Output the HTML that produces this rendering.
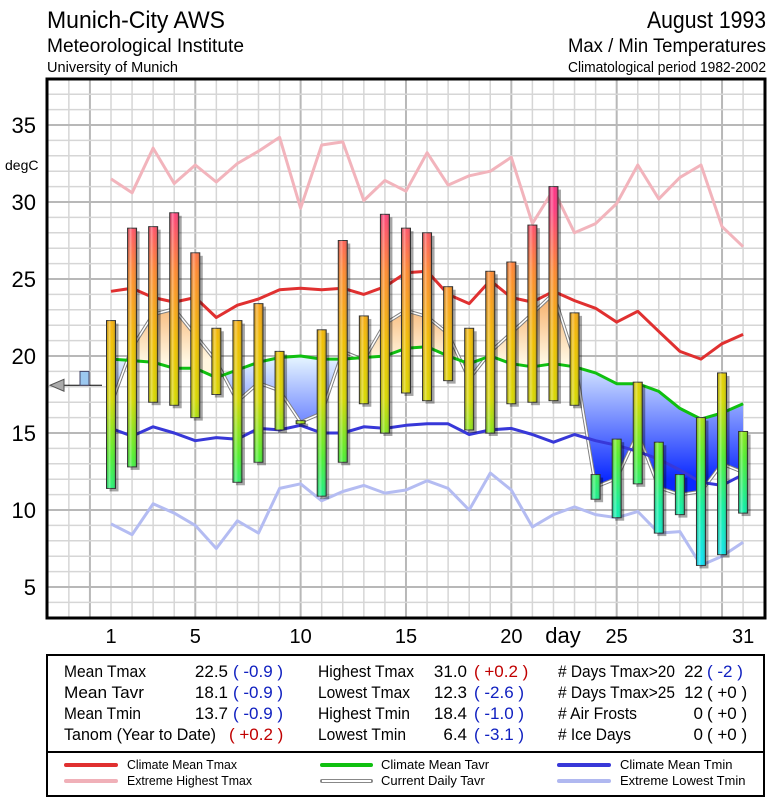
<!DOCTYPE html>
<html><head><meta charset="utf-8"><style>
html,body{margin:0;padding:0;background:#fff;}
svg{display:block;font-family:"Liberation Sans",sans-serif;}
</style></head><body>
<svg id="chart" width="775" height="800" viewBox="0 0 775 800" xmlns="http://www.w3.org/2000/svg">
<defs>
<linearGradient id="barGrad" gradientUnits="userSpaceOnUse" x1="0" y1="118" x2="0" y2="570">
<stop offset="0" stop-color="#ff2090"/>
<stop offset="0.2" stop-color="#ff3a80"/>
<stop offset="0.34" stop-color="#ff8a30"/>
<stop offset="0.5" stop-color="#f0c000"/>
<stop offset="0.62" stop-color="#d8d800"/>
<stop offset="0.75" stop-color="#50f030"/>
<stop offset="0.86" stop-color="#10f0a0"/>
<stop offset="1" stop-color="#10e0ff"/>
</linearGradient>
<linearGradient id="barShade" x1="0" y1="0" x2="1" y2="0">
<stop offset="0" stop-color="#000" stop-opacity="0.15"/>
<stop offset="0.3" stop-color="#fff" stop-opacity="0.35"/>
<stop offset="0.6" stop-color="#fff" stop-opacity="0"/>
<stop offset="1" stop-color="#000" stop-opacity="0.3"/>
</linearGradient>
<linearGradient id="warmGrad" gradientUnits="userSpaceOnUse" x1="0" y1="250" x2="0" y2="360">
<stop offset="0" stop-color="#f07a10"/>
<stop offset="1" stop-color="#fff6e0"/>
</linearGradient>
<linearGradient id="coldGrad" gradientUnits="userSpaceOnUse" x1="0" y1="360" x2="0" y2="480">
<stop offset="0" stop-color="#e0f0ff"/>
<stop offset="1" stop-color="#0a28ff"/>
</linearGradient>
<clipPath id="plotClip"><rect x="47" y="79" width="718" height="539"/></clipPath>
<clipPath id="aboveClip"><polygon id="aboveClipPoly" points=""/></clipPath>
<clipPath id="belowClip"><polygon id="belowClipPoly" points=""/></clipPath>
</defs>

<g>
<text x="47" y="28" font-size="24" textLength="178" lengthAdjust="spacingAndGlyphs">Munich-City AWS</text>
<text x="47" y="52" font-size="19" textLength="197" lengthAdjust="spacingAndGlyphs">Meteorological Institute</text>
<text x="47" y="72" font-size="15" textLength="131" lengthAdjust="spacingAndGlyphs">University of Munich</text>
<text x="766" y="28" font-size="24" text-anchor="end" textLength="119" lengthAdjust="spacingAndGlyphs">August 1993</text>
<text x="766" y="52" font-size="19" text-anchor="end" textLength="198" lengthAdjust="spacingAndGlyphs">Max / Min Temperatures</text>
<text x="766" y="72" font-size="15" text-anchor="end" textLength="198" lengthAdjust="spacingAndGlyphs">Climatological period 1982-2002</text>
</g>

<g id="grid"></g>
<g id="fills" clip-path="url(#plotClip)"></g>
<g id="lines" clip-path="url(#plotClip)"></g>
<g id="bars"></g>
<rect x="47" y="79" width="718" height="539" fill="none" stroke="#000" stroke-width="3"/>
<g id="yaxis"></g>
<text x="5" y="170" font-size="14">degC</text>
<g id="xaxis"></g>
<g id="marker"></g>

<g font-size="17">
<rect x="47" y="655" width="717" height="97" fill="#fff" stroke="#000" stroke-width="2"/>
<g>
<text x="64" y="677" textLength="82" lengthAdjust="spacingAndGlyphs">Mean Tmax</text><text x="228" y="677" text-anchor="end">22.5</text><text x="233" y="677" fill="#1020c0">( -0.9 )</text>
<text x="64" y="698" textLength="80" lengthAdjust="spacingAndGlyphs">Mean Tavr</text><text x="228" y="698" text-anchor="end">18.1</text><text x="233" y="698" fill="#1020c0">( -0.9 )</text>
<text x="64" y="719" textLength="77" lengthAdjust="spacingAndGlyphs">Mean Tmin</text><text x="228" y="719" text-anchor="end">13.7</text><text x="233" y="719" fill="#1020c0">( -0.9 )</text>
<text x="64" y="740" textLength="152" lengthAdjust="spacingAndGlyphs">Tanom (Year to Date)</text><text x="229" y="740" fill="#c00000">( +0.2 )</text>
</g>
<g>
<text x="318" y="677" textLength="96" lengthAdjust="spacingAndGlyphs">Highest Tmax</text><text x="467" y="677" text-anchor="end">31.0</text><text x="474" y="677" fill="#c00000">( +0.2 )</text>
<text x="318" y="698" textLength="92" lengthAdjust="spacingAndGlyphs">Lowest Tmax</text><text x="467" y="698" text-anchor="end">12.3</text><text x="474" y="698" fill="#1020c0">( -2.6 )</text>
<text x="318" y="719" textLength="92" lengthAdjust="spacingAndGlyphs">Highest Tmin</text><text x="467" y="719" text-anchor="end">18.4</text><text x="474" y="719" fill="#1020c0">( -1.0 )</text>
<text x="318" y="740" textLength="88" lengthAdjust="spacingAndGlyphs">Lowest Tmin</text><text x="467" y="740" text-anchor="end">6.4</text><text x="474" y="740" fill="#1020c0">( -3.1 )</text>
</g>
<g>
<text x="558" y="677" textLength="117" lengthAdjust="spacingAndGlyphs"># Days Tmax&gt;20</text><text x="703" y="677" text-anchor="end">22</text><text x="707" y="677" fill="#1020c0">( -2 )</text>
<text x="558" y="698" textLength="117" lengthAdjust="spacingAndGlyphs"># Days Tmax&gt;25</text><text x="703" y="698" text-anchor="end">12</text><text x="707" y="698">( +0 )</text>
<text x="558" y="719" textLength="79" lengthAdjust="spacingAndGlyphs"># Air Frosts</text><text x="703" y="719" text-anchor="end">0</text><text x="707" y="719">( +0 )</text>
<text x="558" y="740" textLength="73" lengthAdjust="spacingAndGlyphs"># Ice Days</text><text x="703" y="740" text-anchor="end">0</text><text x="707" y="740">( +0 )</text>
</g>
</g>

<g font-size="13">
<rect x="47" y="752" width="717" height="44" fill="#fff" stroke="#000" stroke-width="2"/>
<g><line x1="66" y1="765" x2="116" y2="765" stroke="#e03030" stroke-width="4" stroke-linecap="round"/><text x="127" y="769" textLength="110" lengthAdjust="spacingAndGlyphs">Climate Mean Tmax</text></g>
<g><line x1="66" y1="781" x2="116" y2="781" stroke="#f0b0b8" stroke-width="4" stroke-linecap="round"/><text x="127" y="785" textLength="125" lengthAdjust="spacingAndGlyphs">Extreme Highest Tmax</text></g>
<g><line x1="322" y1="765" x2="371" y2="765" stroke="#10c010" stroke-width="4" stroke-linecap="round"/><text x="381" y="769">Climate Mean Tavr</text></g>
<g><line x1="322" y1="781" x2="371" y2="781" stroke="#888" stroke-width="4" stroke-linecap="round"/><line x1="322" y1="781" x2="371" y2="781" stroke="#fff" stroke-width="2"/><text x="381" y="785">Current Daily Tavr</text></g>
<g><line x1="559" y1="765" x2="609" y2="765" stroke="#3838d8" stroke-width="4" stroke-linecap="round"/><text x="620" y="769">Climate Mean Tmin</text></g>
<g><line x1="559" y1="781" x2="609" y2="781" stroke="#b0b8f0" stroke-width="4" stroke-linecap="round"/><text x="620" y="785">Extreme Lowest Tmin</text></g>
</g>
</svg>
<script>
const days = [1,2,3,4,5,6,7,8,9,10,11,12,13,14,15,16,17,18,19,20,21,22,23,24,25,26,27,28,29,30,31];
const tmax = [22.3,28.3,28.4,29.3,26.7,21.8,22.3,23.4,20.3,15.8,21.7,27.5,22.6,29.2,28.3,28.0,24.5,21.8,25.5,26.1,28.5,31.0,22.8,12.3,14.6,18.3,14.4,12.3,16.0,18.9,15.1];
const tmin = [11.4,12.8,17.0,16.8,16.0,17.5,11.8,13.1,15.2,15.6,10.9,13.1,16.9,15.0,17.6,17.1,18.4,15.2,15.0,16.9,17.0,17.1,16.8,10.7,9.5,11.7,8.5,9.7,6.4,7.1,9.8];
const climMeanTmax = [24.2,24.4,23.8,23.5,23.8,22.5,23.3,23.7,24.3,24.4,24.3,24.4,24.0,24.5,25.4,25.5,24.0,23.4,24.9,23.8,23.5,24.2,23.6,23.1,22.2,22.9,21.6,20.3,19.8,20.8,21.4];
const climMeanTavr = [19.8,19.7,19.6,19.2,19.2,18.6,19.1,19.6,19.9,20.0,19.8,19.8,19.9,20.0,20.5,20.6,20.0,19.5,20.0,19.5,19.3,19.5,19.3,18.9,18.2,18.2,17.7,16.6,15.9,16.3,16.9];
const climMeanTmin = [15.3,14.8,15.4,15.0,14.5,14.7,14.6,15.3,15.2,15.5,15.0,15.0,15.4,15.3,15.5,15.6,15.6,14.9,15.2,15.3,14.9,14.4,14.9,14.5,14.2,13.8,13.3,12.6,11.8,11.6,12.3];
const extremeHighTmax = [31.5,30.6,33.5,31.2,32.4,31.3,32.5,33.3,34.2,29.6,33.7,33.9,30.1,31.4,30.7,33.2,31.1,31.7,32.0,32.9,28.6,30.8,28.0,28.6,29.9,32.4,30.2,31.6,32.4,28.4,27.1];
const extremeLowTmin = [9.1,8.4,10.4,9.8,9.0,7.5,9.3,8.5,11.4,11.7,10.6,11.2,11.6,11.1,11.3,11.9,11.4,10.0,12.4,11.3,8.9,9.7,10.2,9.7,9.5,9.9,8.5,8.6,6.4,7.0,7.9];
const yTicks = [5,10,15,20,25,30,35];
const xTickLabels = ["1","5","10","15","20","25","31"];
const xTickDays = [1,5,10,15,20,25,31];
const monthMeanTavr = 18.1;
const monthAnomTavr = -0.9;

const NS = "http://www.w3.org/2000/svg";
function x(d){ return 111 + (d-1)*21.07; }
function y(t){ return 587 - (t-5)*15.4; }
function mk(tag, attrs, parent){ const e=document.createElementNS(NS,tag); for(const k in attrs) e.setAttribute(k, attrs[k]); parent.appendChild(e); return e; }
function pts(arr){ return arr.map((v,i)=>x(days[i]).toFixed(1)+","+y(v).toFixed(1)).join(" "); }

const grid = document.getElementById("grid");
for(let d=-2; d<=32; d++){
  const l = mk("line",{x1:x(d),x2:x(d),y1:79,y2:618,stroke:(d%5===0)?"#b8b8b8":"#d6d6d6","stroke-width":(d%5===0)?2:1.5},grid);
  
  
}
for(let t=3; t<=38; t++){
  const l = mk("line",{x1:47,x2:765,y1:y(t),y2:y(t),stroke:(t%5===0)?"#b8b8b8":"#d6d6d6","stroke-width":(t%5===0)?2:1.5},grid);
  
  
}

const ya = document.getElementById("yaxis");
yTicks.forEach(t=>{
  const e = mk("text",{x:36,y:y(t)+8,"font-size":22,"text-anchor":"end"},ya);
  e.textContent = t;
  
  
});
const xa = document.getElementById("xaxis");
xTickDays.forEach((d,i)=>{
  const e = mk("text",{x:x(d),y:643,"font-size":20,"text-anchor":"middle"},xa);
  e.textContent = xTickLabels[i];
  
  
});
const dl = mk("text",{x:563,y:643,"font-size":22,"text-anchor":"middle"},xa);
dl.textContent = "day";



const tavr = tmax.map((v,i)=>(v+tmin[i])/2);
const climPts = pts(climMeanTavr);
document.getElementById("aboveClipPoly").setAttribute("points", x(1)+",79 "+climPts+" "+x(31)+",79");
document.getElementById("belowClipPoly").setAttribute("points", x(1)+",618 "+climPts+" "+x(31)+",618");
const revClim = climMeanTavr.map((v,i)=>[x(days[i]),y(v)]).reverse().map(p=>p[0].toFixed(1)+","+p[1].toFixed(1)).join(" ");
const polyPts = pts(tavr)+" "+revClim;
const fills = document.getElementById("fills");
const warm = mk("polygon",{points:polyPts,fill:"url(#warmGrad)","clip-path":"url(#aboveClip)"},fills);


const cold = mk("polygon",{points:polyPts,fill:"url(#coldGrad)","clip-path":"url(#belowClip)"},fills);



const lines = document.getElementById("lines");
function addLine(arr, color, w, name){
  const p = mk("polyline",{points:pts(arr),fill:"none",stroke:color,"stroke-width":w,"stroke-linejoin":"round"},lines);
  
  
  return p;
}
addLine(extremeHighTmax,"#f2b4bc",3,"extreme-highest-tmax-line");
addLine(extremeLowTmin,"#b4bcf2",3,"extreme-lowest-tmin-line");
addLine(tavr,"#808080",3.5,"current-daily-tavr-outline");
addLine(tavr,"#ffffff",1.5,"current-daily-tavr-line");
addLine(climMeanTmax,"#e03030",3,"climate-mean-tmax-line");
addLine(climMeanTavr,"#10c010",3,"climate-mean-tavr-line");
addLine(climMeanTmin,"#3838d8",3,"climate-mean-tmin-line");

const bars = document.getElementById("bars");
days.forEach((d,i)=>{
  const bx = x(d)-4.5, top = y(tmax[i]), h = Math.max(y(tmin[i])-top,2);
  const s = mk("rect",{x:bx+3,y:top+3,width:9,height:h,fill:"#000",opacity:0.35},bars);
  
  
  const r = mk("rect",{x:bx,y:top,width:9,height:h,fill:"url(#barGrad)",stroke:"#333","stroke-width":1},bars);
  
  
  const o = mk("rect",{x:bx,y:top,width:9,height:h,fill:"url(#barShade)"},bars);
  
  
});

const mg = document.getElementById("marker");
const my = y(monthMeanTavr);
const ml = mk("line",{x1:62,x2:102,y1:my,y2:my,stroke:"#000","stroke-width":1},mg);


const ma = mk("polygon",{points:`50,${my} 64,${my-6} 64,${my+6}`,fill:"#aaa",stroke:"#555","stroke-width":1},mg);


const mb = mk("rect",{x:80,y:y(monthMeanTavr-monthAnomTavr),width:9,height:y(monthMeanTavr)-y(monthMeanTavr-monthAnomTavr),fill:"#9cc8f0",stroke:"#446","stroke-width":1},mg);


</script>
</body></html>
